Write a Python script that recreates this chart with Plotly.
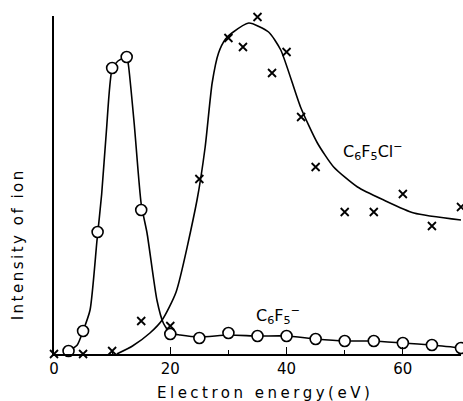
import plotly.graph_objects as go

# Measured points: C6F5- (open circles)
f5_x = [2.5, 5, 7.5, 10, 12.5, 15, 20, 25, 30, 35, 40, 45, 50, 55, 60, 65, 70]
f5_y = [3, 23, 122, 286, 297, 144, 20, 16, 21, 18, 18, 15, 13, 13, 11, 9, 6]

# Measured points: C6F5Cl- (crosses)
cl_x = [0, 5, 10, 15, 20, 25, 30, 32.5, 35, 37.5, 40, 42.5, 45, 50, 55, 60, 65, 70]
cl_y = [0, 0, 3, 33, 28, 175, 316, 307, 337, 281, 302, 237, 187, 142, 142, 160, 128, 147]

# Smooth guide curves
f5_curve_x = [2.5, 4, 5, 6.2, 7.4, 8.2, 9, 10, 11, 12.5, 12.8, 13.8, 15, 16, 17.7, 18.8, 20, 21.7, 25, 30, 35, 40, 45, 50, 55, 60, 65, 70]
f5_curve_y = [3, 9, 23, 44, 114, 160, 222, 285, 293, 297, 289, 230, 150, 121, 54, 31, 21, 19, 17, 19, 18, 18, 15, 13, 13, 11, 9, 6]

cl_curve_x = [10.8, 13.5, 16.5, 18.6, 21, 24.6, 26, 27.2, 28.3, 29.5, 30.6, 33.5, 36.9, 39, 42.4, 45.3, 48.1, 52.2, 56.7, 61.9, 70]
cl_curve_y = [0, 8, 21, 34, 62, 154, 207, 271, 301, 315, 321, 331, 322, 304, 247, 211, 187, 167, 154, 141, 134]

FONT = "DejaVu Sans"

fig = go.Figure()
fig.add_trace(go.Scatter(x=f5_curve_x, y=f5_curve_y, mode="lines",
                         line=dict(color="black", width=1.6, shape="spline", smoothing=0.6),
                         hoverinfo="skip", showlegend=False))
fig.add_trace(go.Scatter(x=cl_curve_x, y=cl_curve_y, mode="lines",
                         line=dict(color="black", width=1.6, shape="spline", smoothing=0.6),
                         hoverinfo="skip", showlegend=False))
fig.add_trace(go.Scatter(x=f5_x, y=f5_y, mode="markers", cliponaxis=False,
                         marker=dict(symbol="circle", size=11, color="white",
                                     line=dict(color="black", width=1.6)),
                         showlegend=False))
fig.add_trace(go.Scatter(x=cl_x, y=cl_y, mode="markers", cliponaxis=False,
                         marker=dict(symbol="x-thin", size=8, color="black",
                                     line=dict(color="black", width=1.8)),
                         showlegend=False))

fig.update_layout(
    width=463, height=401,
    margin=dict(l=54, r=2, t=16, b=47),
    paper_bgcolor="white", plot_bgcolor="white",
    font=dict(family=FONT, color="black", size=15),
    xaxis=dict(range=[0, 70], showgrid=False, zeroline=False,
               showline=True, linecolor="black", linewidth=1.5,
               tickmode="array", tickvals=[0, 20, 40, 60], ticktext=["0", "20", "40", "60"],
               ticks="inside", ticklen=7, tickwidth=1.3, tickcolor="black",
               tickfont=dict(family=FONT, size=15),
               minor=dict(tickvals=[10, 30, 50], ticks="inside", ticklen=4,
                          tickwidth=1.3, tickcolor="black", showgrid=False)),
    yaxis=dict(range=[0, 338], showgrid=False, zeroline=False,
               showline=True, linecolor="black", linewidth=1.5,
               showticklabels=False, ticks=""),
    annotations=[
        dict(x=54.9, y=203, xref="x", yref="y", showarrow=False,
             text="C<sub>6</sub>F<sub>5</sub>Cl<sup>−</sup>", font=dict(size=16)),
        dict(x=38.6, y=39, xref="x", yref="y", showarrow=False,
             text="C<sub>6</sub>F<sub>5</sub><sup>−</sup>", font=dict(size=16)),
        dict(x=36.3, y=-0.115, xref="x", yref="paper", showarrow=False,
             xanchor="center", yanchor="middle",
             text='<span style="letter-spacing:3.5px">Electron energy(eV)</span>',
             font=dict(size=15)),
        dict(x=-0.088, y=0.325, xref="paper", yref="paper", showarrow=False,
             xanchor="center", yanchor="middle", textangle=-90,
             text='<span style="letter-spacing:2.5px">Intensity of ion</span>',
             font=dict(size=15)),
    ],
)

fig.write_html("out.html",
               config={"displayModeBar": False},
               post_script="document.body.style.margin='0';document.body.style.overflow='hidden';")
